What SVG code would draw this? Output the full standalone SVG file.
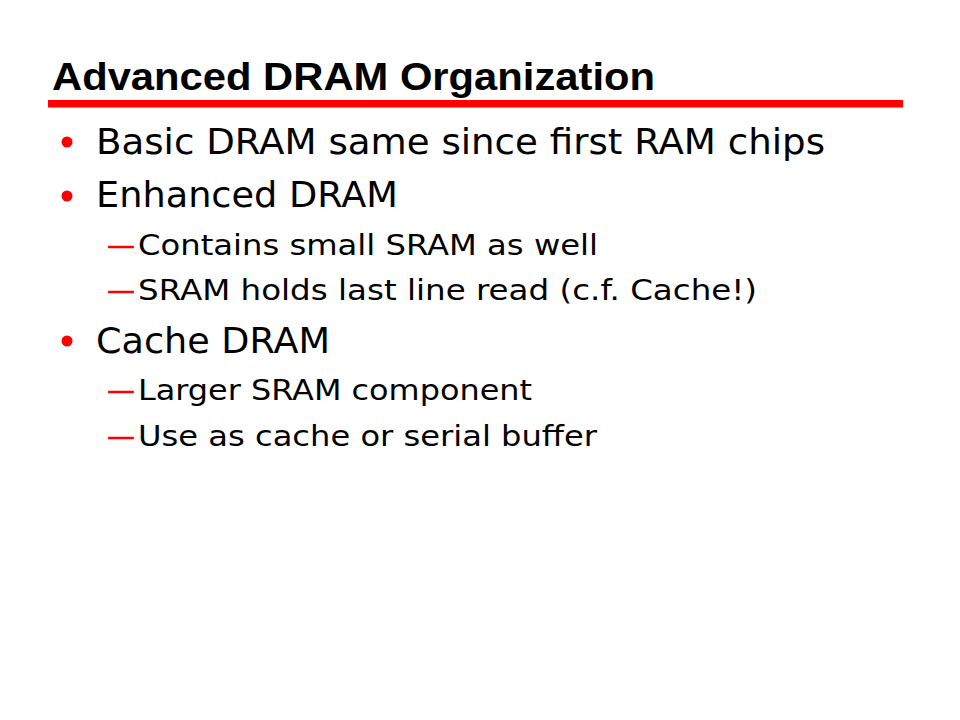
<svg xmlns="http://www.w3.org/2000/svg" width="960" height="720" viewBox="0 0 960 720">
<style>
.title{font-family:"Liberation Sans",Arial,sans-serif;font-weight:bold;font-size:39px;fill:#000}
.l1{font-family:"DejaVu Sans",Verdana,sans-serif;font-size:36px;fill:#000}
.l2{font-family:"DejaVu Sans",Verdana,sans-serif;font-size:29px;fill:#000}
.dash{font-family:"DejaVu Sans",Verdana,sans-serif;font-size:29px;fill:#ff0000;stroke:#ff0000;stroke-width:0.6}
.bul{fill:#ff0000}
</style>
<rect width="960" height="720" fill="#fff"/>
<g id="title">
<text class="title" x="52" y="90" textLength="603" lengthAdjust="spacingAndGlyphs">Advanced DRAM Organization</text>
<rect x="48" y="100" width="855" height="7.5" fill="#ff0000"/>
</g>
<g id="item1">
<circle class="bul" cx="67" cy="142" r="5.5"/>
<text class="l1" x="96" y="154" textLength="729" lengthAdjust="spacingAndGlyphs">Basic DRAM same since first RAM chips</text>
</g>
<g id="item2">
<circle class="bul" cx="67" cy="196" r="5.5"/>
<text class="l1" x="96" y="207" textLength="302" lengthAdjust="spacingAndGlyphs">Enhanced DRAM</text>
</g>
<g id="item2a">
<text class="dash" x="107" y="255" textLength="28" lengthAdjust="spacingAndGlyphs">—</text>
<text class="l2" x="138" y="255" textLength="460" lengthAdjust="spacingAndGlyphs">Contains small SRAM as well</text>
</g>
<g id="item2b">
<text class="dash" x="107" y="300" textLength="28" lengthAdjust="spacingAndGlyphs">—</text>
<text class="l2" x="138" y="300" textLength="619" lengthAdjust="spacingAndGlyphs">SRAM holds last line read (c.f. Cache!)</text>
</g>
<g id="item3">
<circle class="bul" cx="67" cy="341" r="5.5"/>
<text class="l1" x="96" y="353" textLength="234" lengthAdjust="spacingAndGlyphs">Cache DRAM</text>
</g>
<g id="item3a">
<text class="dash" x="107" y="400" textLength="28" lengthAdjust="spacingAndGlyphs">—</text>
<text class="l2" x="138" y="400" textLength="394" lengthAdjust="spacingAndGlyphs">Larger SRAM component</text>
</g>
<g id="item3b">
<text class="dash" x="107" y="446" textLength="28" lengthAdjust="spacingAndGlyphs">—</text>
<text class="l2" x="138" y="446" textLength="459" lengthAdjust="spacingAndGlyphs">Use as cache or serial buffer</text>
</g>
</svg>
